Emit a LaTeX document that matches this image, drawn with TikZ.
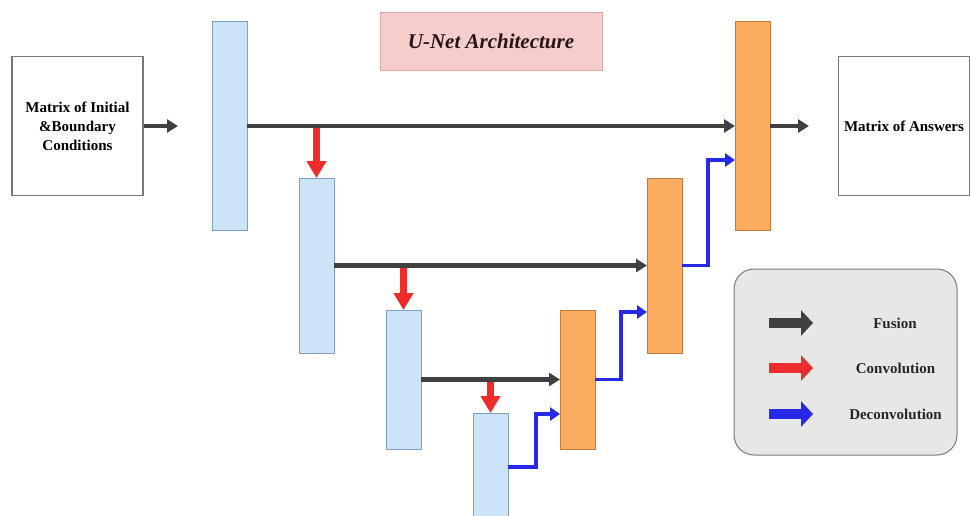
\documentclass[tikz,border=0pt]{standalone}
\usepackage{fontspec}
\setmainfont{Liberation Serif}
\usetikzlibrary{arrows.meta,calc}
\definecolor{barblue}{RGB}{204,228,248}
\definecolor{barblueb}{RGB}{130,160,190}
\definecolor{barorange}{RGB}{251,172,94}
\definecolor{barorangeb}{RGB}{190,125,62}
\definecolor{fusecol}{RGB}{64,64,64}
\definecolor{convcol}{RGB}{238,44,44}
\definecolor{deconvcol}{RGB}{40,40,232}
\definecolor{titlefill}{RGB}{245,205,205}
\definecolor{titleline}{RGB}{225,165,165}
\definecolor{legfill}{RGB}{231,231,231}
\definecolor{boxline}{RGB}{120,120,120}
\tikzset{
  encbar/.style={draw=barblueb, line width=0.8pt, fill=barblue, minimum width=35pt, inner sep=0pt, outer sep=0pt},
  decbar/.style={draw=barorangeb, line width=0.8pt, fill=barorange, minimum width=35pt, inner sep=0pt, outer sep=0pt},
  iobox/.style={draw=boxline, line width=1.4pt, fill=white, minimum width=131pt, minimum height=139pt, inner sep=0pt, align=center, font=\fontsize{15}{19}\selectfont\bfseries},
  fusion/.style={draw=fusecol, line width=4.5pt, -{Triangle[length=11pt,width=13pt]}},
  conv/.style={draw=convcol, line width=7.5pt, -{Triangle[length=17pt,width=19pt]}},
  deconv/.style={draw=deconvcol, line width=3.8pt, -{Triangle[length=10pt,width=13pt]}},
  legarrow/.style={line width=10pt, -{Triangle[length=12pt,width=25pt]}},
  legtext/.style={font=\fontsize{15}{18}\selectfont\bfseries, text=black!85}
}
\begin{document}
\begin{tikzpicture}[x=1pt,y=-1pt]
\useasboundingbox (0,0) rectangle (970,515);
% title
\node[draw=titleline, line width=1pt, fill=titlefill, minimum width=222pt, minimum height=58pt, inner sep=0pt,
      font=\fontsize{21}{24}\selectfont\bfseries\itshape, text={rgb,255:red,40;green,20;blue,20}] (title) at (491,41) {U-Net Architecture};
% input / output
\node[iobox] (inp) at (77.5,126) {Matrix of Initial\\\&Boundary\\Conditions};
\node[iobox] (out) at (904,126) {Matrix of Answers};
% encoder bars
\node[encbar, minimum height=209pt] (b1) at (229.5,126) {};
\node[encbar, minimum height=175pt] (b2) at (316.5,265.5) {};
\node[encbar, minimum height=139pt] (b3) at (403.5,379.5) {};
\node[encbar, minimum height=130pt] (b4) at (490.5,478) {};
% decoder bars
\node[decbar, minimum height=139pt] (o1) at (577.5,379.5) {};
\node[decbar, minimum height=175pt] (o2) at (664.5,265.5) {};
\node[decbar, minimum height=209pt] (o3) at (752.5,126) {};
% convolution arrows
\draw[conv] ([yshift=-2pt]b2.north |- b1.east) -- (b2.north);
\draw[conv] ([yshift=-2pt]b3.north |- b2.east) -- (b3.north);
\draw[conv] ([yshift=-2pt]b4.north |- b3.east) -- (b4.north);
% in / out arrows
\coordinate (inend) at (178,126);
\coordinate (outend) at (809,126);
\draw[fusion] (inp.east) -- (inend);
\draw[fusion] (o3.east) -- (outend);
% fusion (skip) connections
\draw[fusion] (b1.east) -- (o3.west);
\draw[fusion] (b2.east) -- (o2.west);
\draw[fusion] (b3.east) -- (o1.west);
% deconvolution arrows
\draw[deconv] (b4.east |- {(0,467)}) -| (536,414) -- (o1.west |- {(0,414)});
\draw[deconv] (o1.east) -| (621,312) -- (o2.west |- {(0,312)});
\draw[deconv] (o2.east) -| (708,160) -- (o3.west |- {(0,160)});
% legend
\node[draw=boxline, line width=1pt, fill=legfill, rounded corners=20pt, minimum width=223pt, minimum height=186pt, inner sep=0pt] (leg) at (845.5,362) {};
\coordinate (l1a) at (769,323); \coordinate (l1b) at (813,323);
\coordinate (l2a) at (769,368); \coordinate (l2b) at (813,368);
\coordinate (l3a) at (769,414); \coordinate (l3b) at (813,414);
\draw[legarrow, draw=fusecol] (l1a) -- (l1b);
\draw[legarrow, draw=convcol] (l2a) -- (l2b);
\draw[legarrow, draw=deconvcol] (l3a) -- (l3b);
\node[legtext] (t1) at (895,323) {Fusion};
\node[legtext] (t2) at (895.5,368) {Convolution};
\node[legtext] (t3) at (895.5,414) {Deconvolution};
\end{tikzpicture}
\end{document}
